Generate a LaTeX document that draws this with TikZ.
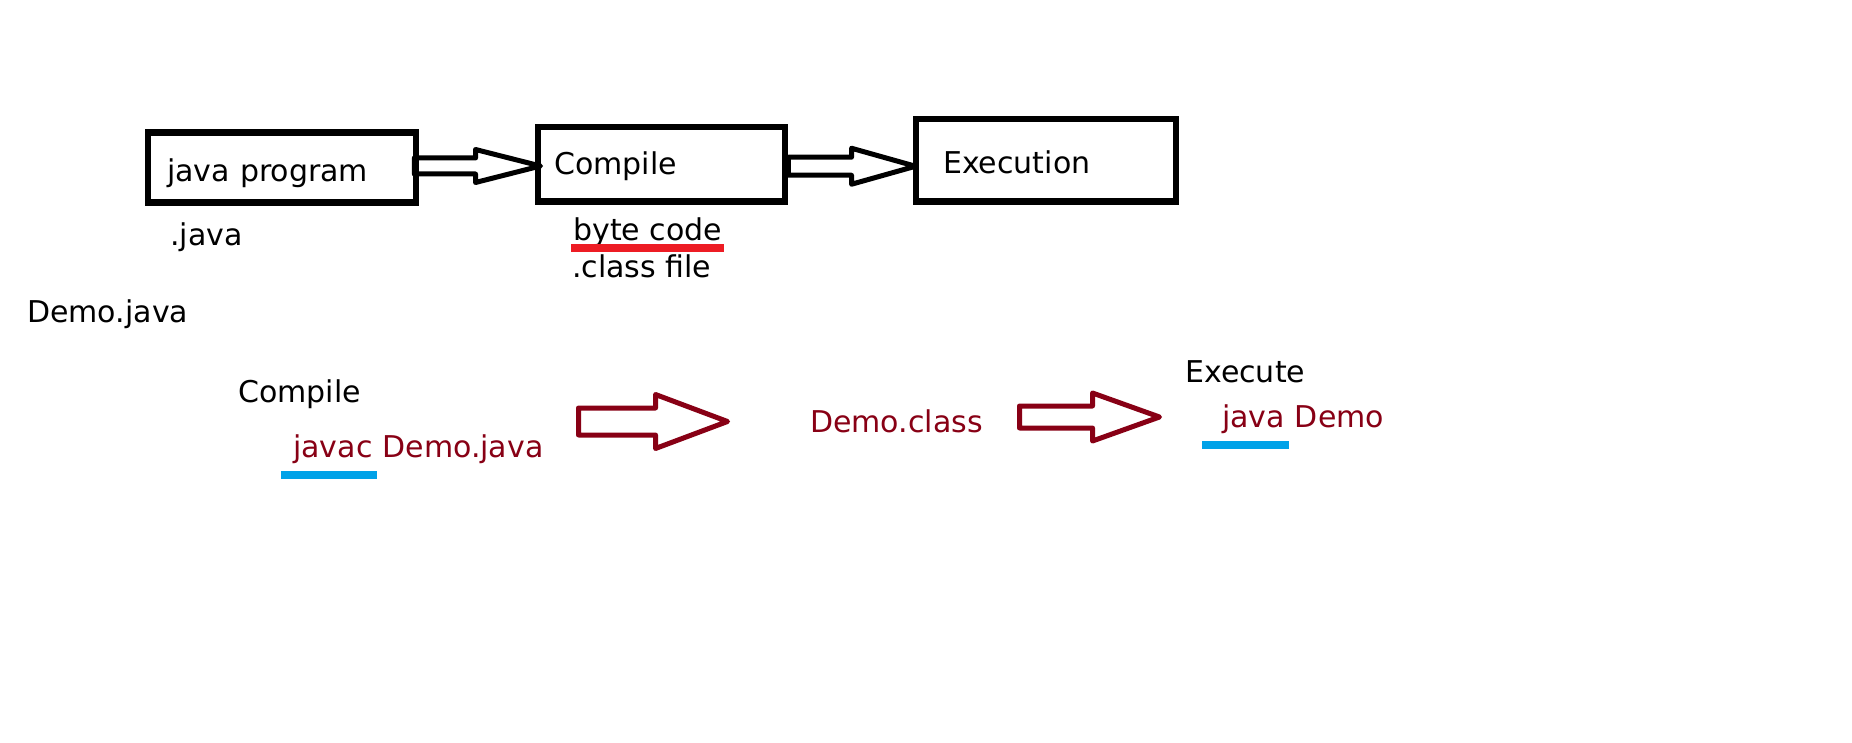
\documentclass[tikz,border=0pt]{standalone}
\usepackage{fontspec}
\setmainfont{DejaVu Sans}
\usepackage{xcolor}
\usepackage{tikz}
\usetikzlibrary{positioning,calc}

\definecolor{javared}{HTML}{880015}
\definecolor{markred}{HTML}{ED1C24}
\definecolor{markblue}{HTML}{00A2E8}

% hollow block arrow: style, from, to, half shaft, half head, head length
\newcommand{\hollowarrow}[6]{%
  \path[#1] let \p1=(#2), \p2=(#3) in
    (\x1,\y1+#4pt) -- (\x2-#6pt,\y1+#4pt) -- (\x2-#6pt,\y1+#5pt) -- (\x2,\y1)
    -- (\x2-#6pt,\y1-#5pt) -- (\x2-#6pt,\y1-#4pt) -- (\x1,\y1-#4pt) -- cycle;}

\begin{document}
\begin{tikzpicture}[x=1pt,y=-1pt,
  font=\fontsize{30}{36}\selectfont,
  stepbox/.style={draw,line width=6.3pt,inner ysep=0pt,align=left,anchor=base west},
  lbl/.style={inner sep=0pt,anchor=base west},
  cmd/.style={lbl,text=javared},
  blackarrow/.style={draw=black,line width=5pt,line join=round},
  redarrow/.style={draw=javared,line width=5pt,line join=round},
  redbar/.style={draw=markred,line width=8pt},
  bluebar/.style={draw=markblue,line width=8pt}
]
\fill[white] (0,0) rectangle (1852,743);
\useasboundingbox (0,0) rectangle (1852,743);

% top row
\node[stepbox,text width=229.5pt,inner xsep=19.5pt,text height=49.5pt,text depth=20.5pt]
  (jprog) at (144.5,182) {java program};
\node[stepbox,text width=215pt,inner xsep=16pt,text height=48pt,text depth=26.5pt]
  (comp) at (535,175) {Compile};
\node[stepbox,text width=205.5pt,inner xsep=27.5pt,text height=55pt,text depth=27.5pt]
  (exec) at (912.5,174) {Execution};
\node[lbl] (ext) at (170,246) {.java};
\node[lbl] (bcode) at (573,241) {byte code};
\node[lbl] (cfile) at (572,277) {.class file};

\hollowarrow{blackarrow}{[xshift=-5pt,yshift=1.5pt]jprog.east}{[xshift=5.5pt]comp.west}{8}{16.5}{65}
\hollowarrow{blackarrow}{[yshift=-2pt]comp.east}{[xshift=3pt]exec.west}{9}{18}{64}
\draw[redbar] ([xshift=-2pt,yshift=-7.5pt]bcode.base west) -- ([xshift=2pt,yshift=-7.5pt]bcode.base east);

% bottom row
\node[lbl] (dfile) at (27,323) {Demo.java};
\node[lbl] (ctitle) at (238,402) {Compile};
\node[cmd] (javac) at (293,457) {javac};
\node[cmd,base right=9.5pt of javac] (srcarg) {Demo.java};
\node[cmd] (cls) at (810,432) {Demo.class};
\node[lbl] (etitle) at (1185,382) {Execute};
\node[cmd] (jrun) at (1222,427) {java};
\node[cmd,base right=9.5pt of jrun] (clsarg) {Demo};

\draw[bluebar] ([xshift=-12pt,yshift=-18pt]javac.base west) -- ([xshift=4pt,yshift=-18pt]javac.base east);
\draw[bluebar] ([xshift=-20pt,yshift=-17.5pt]jrun.base west) -- ([xshift=4pt,yshift=-17.5pt]jrun.base east);

\coordinate (a3s) at (578.5,421.5);
\coordinate (a3t) at (727.5,421.5);
\coordinate (a4s) at (1019.5,417);
\coordinate (a4t) at (1159.5,417);
\hollowarrow{redarrow}{a3s}{a3t}{13.5}{27}{72}
\hollowarrow{redarrow}{a4s}{a4t}{11}{24}{67}
\end{tikzpicture}
\end{document}
